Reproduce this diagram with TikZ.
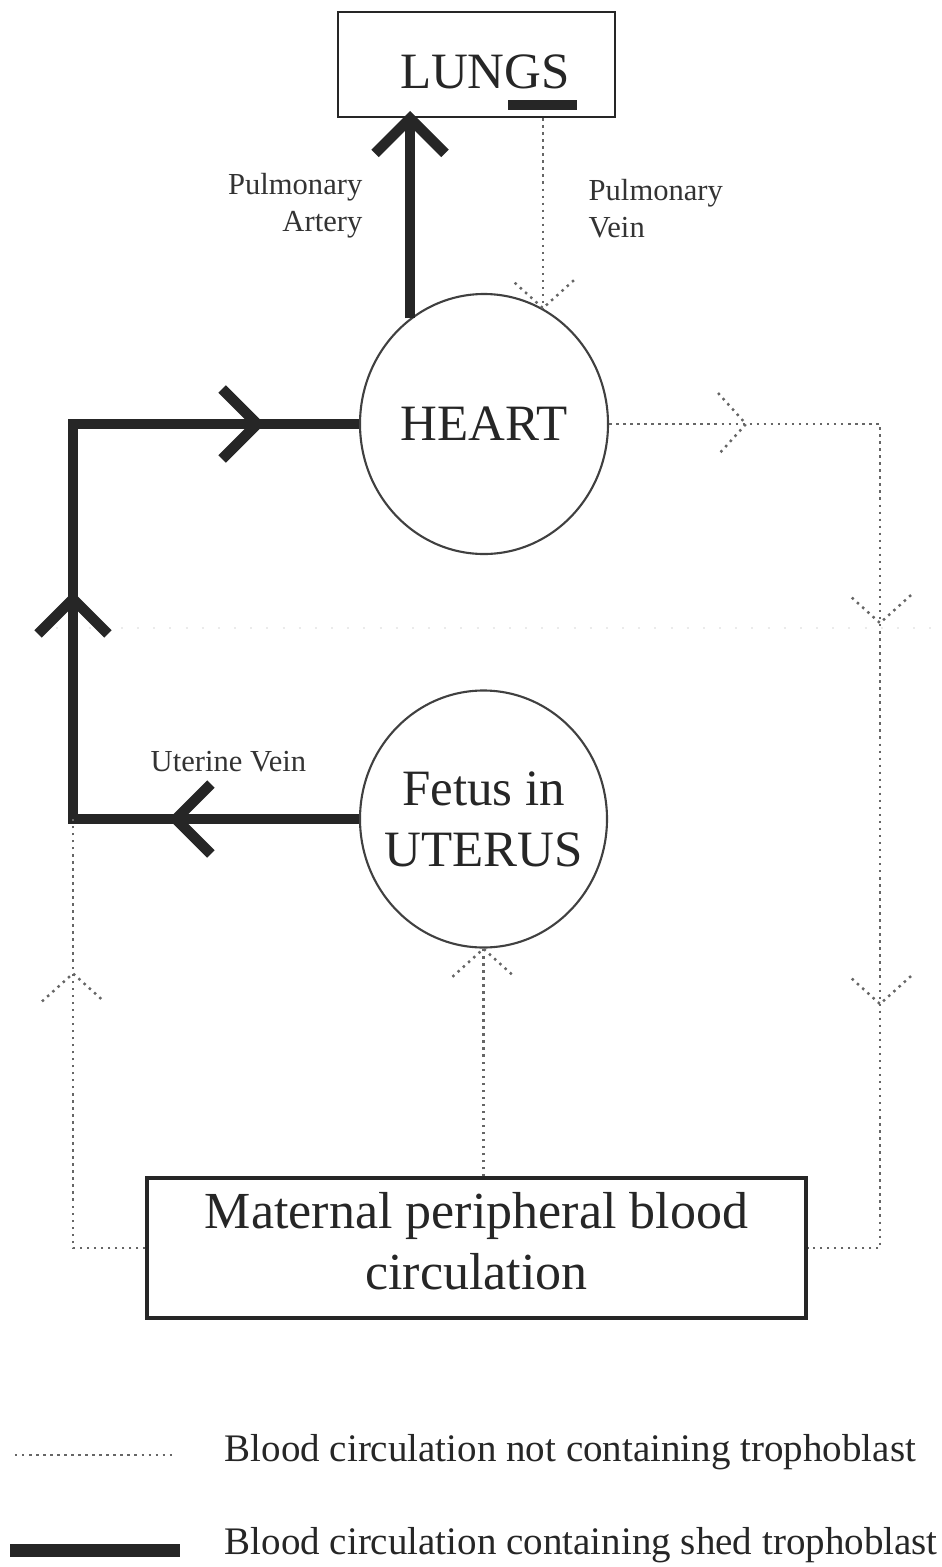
\documentclass[tikz,border=0pt]{standalone}
\usepackage{fontspec}
\setmainfont{Liberation Serif}
\usetikzlibrary{decorations.markings,shapes.geometric,calc}

\begin{document}
\begin{tikzpicture}[
  organ/.style={ellipse,draw=black!75,line width=0.6pt,minimum width=2.48cm,minimum height=2.6cm,inner ysep=0pt,inner xsep=-0.12cm,bigtext},
  organbox/.style={rectangle,draw=black!85,line width=0.7pt,inner sep=0pt},
  bigtext/.style={text=black!85,font=\fontsize{14.5}{17.4}\selectfont,align=center},
  smalllabel/.style={text=black!80,font=\fontsize{8.7}{10.5}\selectfont,inner sep=0pt},
  legendtext/.style={text=black!85,font=\fontsize{11.1}{13}\selectfont,anchor=west,inner sep=0pt},
  shed/.style={color=black!85,line width=3pt},
  plain/.style={color=black!60,line width=0.7pt,dash pattern=on 0.7pt off 1.3pt},
  shedhead/.style={postaction={decorate,decoration={markings,mark=at position #1 with {\draw (-0.35,0.35) -- (0,0) -- (-0.35,-0.35);}}}},
  plainhead/.style={postaction={decorate,decoration={markings,mark=at position #1 with {\draw (-0.28,0.31) -- (0,0) -- (-0.28,-0.31);}}}}
]
  \useasboundingbox (0,0) rectangle (9.42,-15.67);
  \coordinate (leftrail) at (0.73,0);
  \coordinate (rightrail) at (8.8,0);

  \draw[black!8,line width=0.6pt,dash pattern=on 0.6pt off 4pt] (0.4,-6.28) -- (9.42,-6.28);

  \node[organbox,minimum width=2.77cm,minimum height=1.05cm] (lungs) at (4.765,-0.645) {};
  \node[bigtext,inner sep=0pt] (lungsname) at (4.85,-0.72) {LUNGS};
  \draw[shed,line width=2.6pt] (5.08,-1.05) -- (5.77,-1.05);

  \node[organ] (heart) at (4.84,-4.24) {HEART};
  \node[organ,minimum width=2.47cm,minimum height=2.57cm] (fetus) at (4.835,-8.19) {Fetus in\\UTERUS};
  \node[organbox,line width=0.9pt,minimum width=6.59cm,minimum height=1.4cm,bigtext,font=\fontsize{14.8}{17.6}\selectfont,text depth=0.14cm] (maternal) at (4.765,-12.48) {Maternal peripheral blood\\circulation};

  \node[smalllabel,align=right,anchor=east] (arterylabel) at (3.63,-2.06) {Pulmonary\\Artery};
  \node[smalllabel,align=left,anchor=west] (veinlabel) at (5.88,-2.09) {Pulmonary\\Vein};
  \node[smalllabel,anchor=west] (uterinelabel) at (1.50,-7.62) {Uterine Vein};

  \draw[shed,shedhead=0.999] (heart.125) -- (heart.125 |- lungs.south);
  \draw[plain,plainhead=0.999] (lungs.south -| heart.63) -- (heart.63);
  \draw[shed,shedhead=1.83cm,shedhead=5.06cm,shedhead=8.65cm] (fetus.west) -- (leftrail |- fetus.west) -- (leftrail |- heart.west) -- (heart.west);
  \draw[plain,plainhead=1.37cm,plainhead=4.70cm,plainhead=8.51cm] (heart.east) -- (heart.east -| rightrail) -- (rightrail |- maternal.east) -- (maternal.east);
  \draw[plain,plainhead=3.47cm] (maternal.west) -- (leftrail |- maternal.west) -- (leftrail |- fetus.west);
  \draw[plain,plainhead=0.999] (maternal.north -| fetus.south) -- (fetus.south);

  \node[legendtext] (legendplain) at (2.24,-14.52) {Blood circulation not containing trophoblast};
  \node[legendtext] (legendshed) at (2.24,-15.45) {Blood circulation containing shed trophoblast};
  \draw[plain] (0.15,-14.55) -- (1.75,-14.55);
  \draw[shed,line width=3.7pt] (0.10,-15.50) -- (1.80,-15.50);
\end{tikzpicture}
\end{document}
